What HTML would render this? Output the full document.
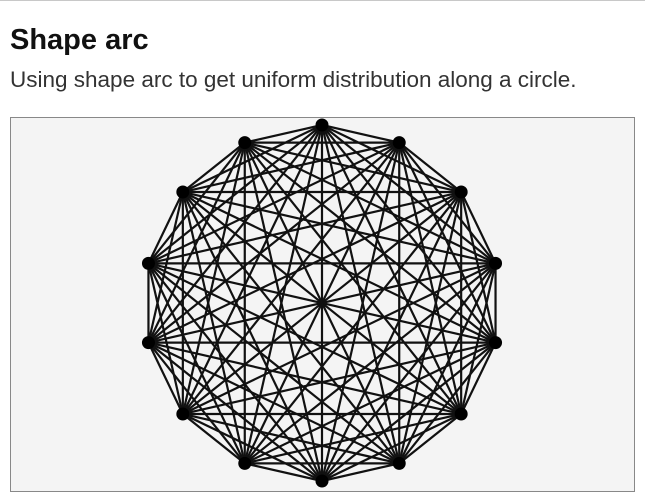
<!DOCTYPE html>
<html><head><meta charset="utf-8"><style>
body{margin:0;background:#fff;width:645px;height:503px;overflow:hidden;font-family:"Liberation Sans",sans-serif;position:relative}
#topline{position:absolute;left:0;top:0;width:645px;height:1px;background:#c8c8c8}
h1{position:absolute;left:10px;top:24px;margin:0;font-size:29px;font-weight:bold;color:#111}
p{position:absolute;left:10px;top:67px;margin:0;font-size:22.5px;color:#333}
#chart{position:absolute;left:10px;top:117px}
</style></head><body>
<div id="topline"></div>
<h1>Shape arc</h1>
<p>Using shape arc to get uniform distribution along a circle.</p>
<svg id="chart" width="625" height="375">
<rect x="0.5" y="0.5" width="624" height="374" fill="#f4f4f4" stroke="#888"/>
<g id="edges"></g><g id="nodes"></g>
</svg>
<script>
const nodeAnglesDeg=[0,25.714,51.429,77.143,102.857,128.571,154.286,180,205.714,231.429,257.143,282.857,308.571,334.286];
const nodeRadius=[1,1,1,1,1,1,1,1,1,1,1,1,1,1];
const cx=312,cy=186,R=178;
const ns="http://www.w3.org/2000/svg";
function px(i){const a=nodeAnglesDeg[i]*Math.PI/180;return [cx+R*nodeRadius[i]*Math.sin(a),cy-R*nodeRadius[i]*Math.cos(a)];}
const eg=document.getElementById('edges'),ng=document.getElementById('nodes');
for(let i=0;i<nodeAnglesDeg.length;i++)for(let j=i+1;j<nodeAnglesDeg.length;j++){
 const a=px(i),b=px(j);const l=document.createElementNS(ns,'line');
 l.setAttribute('x1',a[0]);l.setAttribute('y1',a[1]);l.setAttribute('x2',b[0]);l.setAttribute('y2',b[1]);
 l.setAttribute('stroke','#111');l.setAttribute('stroke-width','2.2');
 
 
 eg.appendChild(l);}
for(let i=0;i<nodeAnglesDeg.length;i++){const p=px(i);const c=document.createElementNS(ns,'circle');
 c.setAttribute('cx',p[0]);c.setAttribute('cy',p[1]);c.setAttribute('r','6.5');c.setAttribute('fill','#000');
 
 
 ng.appendChild(c);}
</script>
</body></html>
